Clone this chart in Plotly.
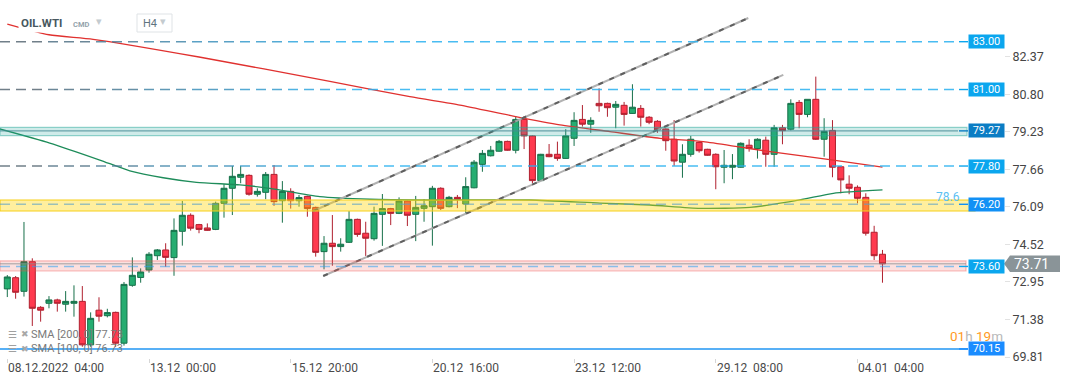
import plotly.graph_objects as go

# ---------------- data ----------------
tick_idx = [0, 17, 34, 51, 68, 85, 102]
tick_labels = ["08.12.2022\u00a0\u00a004:00", "13.12\u00a0\u00a000:00", "15.12\u00a0\u00a020:00",
               "20.12\u00a0\u00a016:00", "23.12\u00a0\u00a012:00", "29.12\u00a0\u00a008:00",
               "04.01\u00a0\u00a004:00"]

opens = [72.66, 73.13, 72.56, 73.80, 71.89, 72.06, 72.20, 72.02, 72.06, 72.14,
         70.32, 71.77, 71.54, 71.68, 70.39, 72.81, 73.14, 73.45, 74.05, 74.29,
         73.97, 75.07, 75.74, 75.35, 75.21, 75.15, 76.24, 76.87, 77.33, 77.41,
         76.62, 76.70, 77.45, 76.35, 76.74, 76.35, 76.53, 76.07, 74.22, 74.57,
         74.43, 74.61, 75.57, 74.99, 74.76, 75.78, 76.02, 75.82, 76.34, 75.78,
         76.03, 76.10, 76.87, 76.10, 76.49, 76.21, 76.89, 77.87, 78.23, 78.42,
         78.83, 78.46, 79.75, 79.06, 77.19, 78.29, 78.29, 78.12, 78.96, 79.75,
         79.55, 80.42, 80.42, 80.26, 80.34, 80.00, 80.21, 79.84, 79.67, 79.35,
         78.92, 77.96, 78.29, 78.79, 78.50, 78.29, 77.75, 77.75, 77.75, 78.67,
         78.53, 78.88, 78.29, 79.40, 79.34, 80.46, 79.96, 80.59, 78.92, 79.29,
         77.77, 77.04, 76.91, 76.49, 75.03, 74.11]
highs = [73.24, 73.20, 75.46, 73.94, 71.94, 72.36, 72.25, 72.57, 72.81, 72.78,
         71.68, 72.31, 71.83, 71.71, 72.95, 73.98, 73.52, 74.20, 74.33, 74.57,
         75.61, 76.34, 75.82, 75.38, 75.40, 76.31, 77.04, 77.80, 77.80, 77.45,
         76.87, 77.55, 77.84, 77.17, 76.87, 76.59, 76.56, 76.10, 74.87, 75.75,
         74.78, 75.92, 75.60, 75.47, 76.10, 76.63, 76.05, 76.49, 76.37, 76.55,
         76.42, 76.97, 76.91, 76.55, 76.59, 77.33, 78.05, 78.47, 78.64, 78.89,
         78.86, 79.89, 79.89, 79.08, 78.31, 78.72, 78.82, 79.34, 80.05, 80.35,
         79.84, 81.05, 80.45, 80.52, 80.48, 81.22, 80.35, 79.89, 79.72, 79.37,
         79.72, 78.71, 79.06, 78.82, 78.52, 78.33, 78.47, 78.30, 78.79, 78.92,
         78.96, 79.03, 79.52, 79.52, 80.59, 80.56, 80.59, 81.54, 79.80, 79.72,
         77.79, 77.41, 76.99, 76.66, 75.30, 74.29]
lows = [72.32, 72.25, 72.34, 71.11, 71.29, 71.85, 71.71, 71.71, 71.50, 70.24,
        70.24, 71.29, 71.47, 70.24, 70.29, 72.75, 72.92, 73.34, 73.87, 73.59,
        73.21, 74.47, 75.10, 74.99, 75.09, 75.12, 75.64, 75.75, 77.08, 76.56,
        76.52, 76.41, 76.13, 75.43, 76.02, 76.10, 75.68, 74.01, 73.48, 73.63,
        74.22, 74.58, 74.84, 74.04, 74.68, 74.46, 75.33, 75.79, 75.29, 74.66,
        75.47, 74.47, 75.96, 76.07, 76.04, 75.79, 76.87, 77.56, 78.20, 78.40,
        78.44, 78.33, 78.51, 77.08, 77.17, 78.17, 78.02, 78.10, 78.64, 79.45,
        79.19, 80.07, 79.86, 79.38, 79.49, 79.98, 79.45, 79.55, 79.19, 78.44,
        77.81, 77.31, 78.19, 78.36, 78.23, 76.83, 77.08, 77.25, 77.73, 78.40,
        78.11, 77.77, 77.77, 78.71, 79.29, 79.38, 79.84, 78.89, 78.19, 77.33,
        76.66, 76.62, 76.24, 74.89, 73.87, 72.92]
closes = [73.16, 72.52, 73.80, 71.85, 71.77, 72.20, 72.06, 72.14, 72.14, 70.32,
          71.43, 71.52, 71.67, 70.39, 72.85, 73.23, 73.37, 74.11, 74.29, 73.98,
          75.11, 75.74, 75.20, 75.15, 75.11, 76.24, 76.87, 77.37, 77.45, 76.62,
          76.74, 77.45, 76.31, 76.74, 76.35, 76.48, 76.02, 74.19, 74.57, 74.43,
          74.53, 75.57, 74.94, 74.78, 75.82, 76.02, 75.82, 76.34, 75.74, 76.07,
          76.14, 76.87, 76.03, 76.49, 76.41, 76.94, 77.96, 78.33, 78.46, 78.83,
          78.46, 79.75, 79.06, 77.19, 78.29, 78.19, 78.12, 79.06, 79.71, 79.55,
          79.71, 80.32, 80.24, 80.38, 79.96, 80.26, 79.84, 79.63, 79.31, 78.86,
          78.01, 78.29, 78.92, 78.44, 78.25, 77.77, 77.83, 77.83, 78.75, 78.53,
          78.92, 78.29, 79.40, 79.28, 80.42, 79.96, 80.59, 78.92, 79.25, 77.75,
          77.22, 76.87, 76.45, 74.99, 74.05, 73.71]

sma200_idx = [0, 5, 10.3, 23, 38.7, 48.3, 54.3, 60.7, 66.3, 72.3, 78.3, 83.5, 87.6, 91.5, 99.1, 105]
sma200_val = [83.74, 83.29, 83.10, 82.36, 81.34, 80.70, 80.35, 79.89, 79.52, 79.24, 78.96, 78.82,
              78.61, 78.40, 78.05, 77.75]
sma100_idx = [-0.9, 5.1, 11.1, 14.7, 18.7, 22.7, 27.9, 31.5, 37.5, 43.5, 50.7, 62.7, 71.1, 77.1,
              83.1, 89.1, 95.1, 99.1, 105]
sma100_val = [79.35, 78.76, 78.05, 77.60, 77.31, 77.12, 77.01, 76.87, 76.52, 76.41, 76.38, 76.38,
              76.25, 76.17, 76.03, 76.07, 76.38, 76.66, 76.80]

upper_idx = [36.7, 88.9]
upper_val = [75.92, 83.99]
lower_idx = [37.9, 93.1]
lower_val = [73.20, 81.61]

dashed_levels = [83.00, 81.00, 77.80]
zones = [  # (low, high, center)
    (79.07, 79.42, 79.27),
    (75.92, 76.38, 76.20),
    (73.41, 73.83, 73.60),
]
support_level = 70.15
last_price = 73.71
price_ticks = [82.37, 80.80, 79.23, 77.66, 76.09, 74.52, 72.95, 71.38, 69.81]
label_levels = [83.00, 81.00, 79.27, 77.80, 76.20, 73.60, 70.15]
label_colors = ["#0ba6ee", "#0ba6ee", "#0b7dc4", "#0ba6ee", "#1190f5", "#0ba6ee", "#1a8cff"]
fib_text = "78.6"
sma200_text = "SMA [200, 0] 77.73"
sma100_text = "SMA [100, 0] 76.73"

# ---------------- geometry helpers ----------------
W, H = 1072, 382
PH = 358  # plot height in px


def X(px):
    return px / W


def Y(py):
    return 1 - py / PH


FONT = "Roboto"

fig = go.Figure()
fig.add_trace(go.Candlestick(
    x=list(range(len(opens))), open=opens, high=highs, low=lows, close=closes,
    increasing=dict(fillcolor="#26ad71", line=dict(color="#17704a", width=1)),
    decreasing=dict(fillcolor="#ff3a4f", line=dict(color="#b0202f", width=1)),
    whiskerwidth=0, showlegend=False, hoverinfo="skip"))

fig.add_trace(go.Scatter(x=sma200_idx, y=sma200_val, mode="lines", hoverinfo="skip",
                         line=dict(color="#e0312f", width=1.3, shape="spline", smoothing=0.6)))
fig.add_trace(go.Scatter(x=sma100_idx, y=sma100_val, mode="lines", hoverinfo="skip",
                         line=dict(color="#1e8c5a", width=1.3, shape="spline", smoothing=0.6)))

for xs, ys in ((upper_idx, upper_val), (lower_idx, lower_val)):
    fig.add_trace(go.Scatter(x=xs, y=ys, mode="lines", hoverinfo="skip",
                             line=dict(color="rgba(170,170,170,0.9)", width=2)))
    fig.add_trace(go.Scatter(x=xs, y=ys, mode="lines", hoverinfo="skip",
                             line=dict(color="rgba(85,85,85,0.9)", width=2, dash="5px,7px")))

shapes = []
annotations = []

# zones
zone_styles = [
    ("rgba(38,166,154,0.22)", "rgba(38,166,154,0.45)", 967, "rgba(70,140,150,0.75)", "solid"),
    ("rgba(255,214,0,0.38)", "#f7cf1a", 975, "rgba(90,160,200,0.6)", "10px,6px"),
    ("rgba(239,83,80,0.18)", "rgba(239,83,80,0.4)", 966, "rgba(41,160,240,0.55)", "10px,6px"),
]
for (lo, hi, c), (fill, border, xend, cl, cdash) in zip(zones, zone_styles):
    shapes.append(dict(type="rect", xref="paper", yref="y", x0=0, x1=X(xend), y0=lo, y1=hi,
                       fillcolor=fill, line=dict(color=border, width=1.2), layer="above"))
    shapes.append(dict(type="line", xref="paper", yref="y", x0=0, x1=X(958), y0=c, y1=c,
                       line=dict(color=cl, width=1.4, dash=cdash), layer="above"))


def lerp(a, b, t):
    return tuple(round(a[i] + (b[i] - a[i]) * t) for i in range(3))


dark = (88, 104, 116)
blue = (41, 176, 240)
for lvl in dashed_levels:
    # gradient from dark grey-blue (left) to light blue
    seg = [0, 48, 96, 144, 192, 240, 288, 336]
    for k in range(len(seg)):
        x0 = seg[k]
        x1 = seg[k + 1] if k + 1 < len(seg) else 958
        col = lerp(dark, blue, k / (len(seg) - 1))
        shapes.append(dict(type="line", xref="paper", yref="y", x0=X(x0), x1=X(x1), y0=lvl, y1=lvl,
                           line=dict(color="rgba(%d,%d,%d,0.85)" % col, width=1.4, dash="10px,6px"),
                           layer="above"))

# current price line
shapes.append(dict(type="line", xref="paper", yref="y", x0=0, x1=X(966), y0=last_price, y1=last_price,
                   line=dict(color="rgba(130,138,142,0.75)", width=1), layer="above"))

# support line 70.15
shapes.append(dict(type="line", xref="paper", yref="y", x0=0, x1=X(968), y0=support_level, y1=support_level,
                   line=dict(color="#2196f3", width=1.5), layer="above"))

# label boxes with connectors
for lvl, col in zip(label_levels, label_colors):
    shapes.append(dict(type="line", xref="paper", yref="y", x0=X(959), x1=X(968), y0=lvl, y1=lvl,
                       line=dict(color=col, width=1.4), layer="above"))
    annotations.append(dict(xref="paper", yref="y", x=X(968), y=lvl, xanchor="left", yanchor="middle",
                            text="%.2f" % lvl, showarrow=False, bgcolor=col, width=35, height=13,
                            borderpad=0, font=dict(family=FONT, size=11, color="white")))

# last price tag
h = 8.3 / 23.91
shapes.append(dict(type="path", xref="paper", yref="y",
                   path="M %f,%f L %f,%f L %f,%f L %f,%f L %f,%f Z" % (
                       X(1004), last_price, X(1010), last_price + h, X(1060), last_price + h,
                       X(1060), last_price - h, X(1010), last_price - h),
                   fillcolor="#8a9498", line=dict(width=0), layer="above"))
annotations.append(dict(xref="paper", yref="y", x=X(1012), y=last_price, xanchor="left",
                        yanchor="middle", text="%.2f" % last_price, showarrow=False,
                        font=dict(family=FONT, size=14, color="white")))

# x tick labels (left aligned on their ticks)
for ti, tl in zip(tick_idx, tick_labels):
    annotations.append(dict(xref="x", yref="paper", x=ti, y=0, xanchor="left", yanchor="top",
                            yshift=-1, xshift=-1, text=tl, showarrow=False,
                            font=dict(family=FONT, size=12, color="#4a4a4a")))

# fib text
annotations.append(dict(xref="paper", yref="paper", x=X(962), y=Y(196.5), xanchor="right",
                        yanchor="middle", text=fib_text, showarrow=False,
                        font=dict(family=FONT, size=12, color="#5cc0f2")))

# countdown
annotations.append(dict(xref="paper", yref="paper", x=X(1004), y=Y(335.5), xanchor="right",
                        yanchor="middle", showarrow=False, borderpad=0,
                        text="<span style='color:#ff9a1f'>01</span><span style='color:#b8b8b8'>h</span> "
                             "<span style='color:#ff9a1f'>19</span><span style='color:#b8b8b8'>m</span>",
                        font=dict(family=FONT, size=13.5)))

# indicator legend
for yy, txt in ((334, sma200_text), (348.5, sma100_text)):
    annotations.append(dict(xref="paper", yref="paper", x=X(6), y=Y(yy), xanchor="left", yanchor="middle",
                            text="\u2630", showarrow=False, font=dict(family="DejaVu Sans", size=10, color="#a0a0a0")))
    annotations.append(dict(xref="paper", yref="paper", x=X(19), y=Y(yy), xanchor="left", yanchor="middle",
                            text="\u2716", showarrow=False, font=dict(family="DejaVu Sans", size=9, color="#a8a8a8")))
    annotations.append(dict(xref="paper", yref="paper", x=X(29), y=Y(yy), xanchor="left", yanchor="middle",
                            text=txt, showarrow=False, font=dict(family=FONT, size=11, color="#7a7a7a")))

# header
annotations.append(dict(xref="paper", yref="paper", x=X(18), y=Y(23), xanchor="left", yanchor="middle",
                        text="<b>OIL.WTI</b>", showarrow=False, bgcolor="white", borderpad=2,
                        font=dict(family=FONT, size=11.5, color="#47585f")))
annotations.append(dict(xref="paper", yref="paper", x=X(71), y=Y(24), xanchor="left", yanchor="middle",
                        text="<b>CMD</b>", showarrow=False,
                        font=dict(family=FONT, size=7.5, color="#93a3ab")))
annotations.append(dict(xref="paper", yref="paper", x=X(94), y=Y(22), xanchor="left", yanchor="middle",
                        text="\u25BE", showarrow=False,
                        font=dict(family="DejaVu Sans", size=11, color="#c4cbcf")))
shapes.append(dict(type="rect", xref="paper", yref="paper", x0=X(137), x1=X(172), y0=Y(32), y1=Y(14),
                   fillcolor="white", line=dict(color="#dfe3e6", width=1), layer="above"))
annotations.append(dict(xref="paper", yref="paper", x=X(141), y=Y(23), xanchor="left", yanchor="middle",
                        text="H4", showarrow=False,
                        font=dict(family=FONT, size=11, color="#5f7480")))
annotations.append(dict(xref="paper", yref="paper", x=X(158), y=Y(22), xanchor="left", yanchor="middle",
                        text="\u25BE", showarrow=False,
                        font=dict(family="DejaVu Sans", size=11, color="#c4cbcf")))

fig.update_layout(
    width=W, height=H, margin=dict(l=0, r=0, t=0, b=H - PH),
    paper_bgcolor="white", plot_bgcolor="white", showlegend=False, hovermode=False,
    boxgap=0.28, boxgroupgap=0,
    font=dict(family=FONT),
    xaxis=dict(domain=[0, 965 / W], range=[-0.876, 114.9], rangeslider=dict(visible=False),
               showgrid=False, zeroline=False, showline=False, tickmode="array", tickvals=tick_idx,
               ticks="outside", ticklen=4, tickcolor="#d6d6d6", showticklabels=False, fixedrange=True),
    yaxis=dict(range=[69.771, 84.744], side="right", anchor="free", position=1004 / W,
               showgrid=False, zeroline=False, showline=False, tickmode="array",
               tickvals=price_ticks, ticktext=["%.2f" % v for v in price_ticks],
               ticks="outside", ticklen=5, tickcolor="#e2e2e2",
               tickfont=dict(family=FONT, size=12.5, color="#454545"), fixedrange=True),
    shapes=shapes, annotations=annotations,
)

fig.write_html("out.html", config={"displayModeBar": False},
               post_script="document.body.style.margin='0';document.body.style.overflow='hidden';")
